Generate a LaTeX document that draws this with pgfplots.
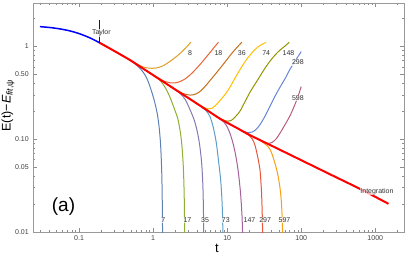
\documentclass[border=0pt]{standalone}
\usepackage{pgfplots}
\pgfplotsset{compat=1.18}
\usepackage{fontspec}
\setmainfont{Liberation Sans}
\definecolor{c1}{rgb}{0.368417,0.506779,0.709798}
\definecolor{c2}{rgb}{0.880722,0.611041,0.142051}
\definecolor{c3}{rgb}{0.560181,0.691569,0.194885}
\definecolor{c4}{rgb}{0.922526,0.385626,0.209179}
\definecolor{c5}{rgb}{0.528488,0.470624,0.701351}
\definecolor{c6}{rgb}{0.772079,0.431554,0.102387}
\definecolor{c7}{rgb}{0.363898,0.618501,0.782349}
\definecolor{c8}{rgb}{1,0.75,0}
\definecolor{c9}{rgb}{0.647624,0.37816,0.614037}
\definecolor{c10}{rgb}{0.571589,0.586483,0}
\definecolor{c11}{rgb}{0.915,0.3325,0.2125}
\definecolor{c12}{rgb}{0.400822,0.522007,0.85}
\definecolor{c13}{rgb}{0.972829,0.621644,0.073362}
\definecolor{c14}{rgb}{0.736783,0.358,0.503027}
\tikzset{
  fit/.style={line width=1pt, smooth, tension=0.5},
  lbl/.style={font=\fontsize{7}{8}\selectfont, text=black!80, fill=white, fill opacity=0.7, text opacity=1, inner sep=0.6pt},
}
\begin{document}
\begin{tikzpicture}
\useasboundingbox (-33.3pt,-26pt) rectangle (373.7pt,232pt);
\begin{axis}[
  at={(0pt,0pt)}, anchor=south west, scale only axis,
  width=371pt, height=229.3pt,
  xmode=log, ymode=log,
  xmin=0.02412, xmax=2466, ymin=0.01, ymax=2.94,
  axis line style={draw=black!40},
  tick style={draw=black!45, line width=0.5pt},
  tick align=inside,
  major tick length=4pt, minor tick length=2.2pt,
  xticklabel pos=lower, yticklabel pos=left,
  xtick={0.1,1,10,100,1000}, xticklabels={0.1,1,10,100,1000},
  minor xtick={0.03,0.04,0.05,0.06,0.07,0.08,0.09,0.2,0.3,0.4,0.5,0.6,0.7,0.8,0.9,2,3,4,5,6,7,8,9,20,30,40,50,60,70,80,90,200,300,400,500,600,700,800,900,2000},
  ytick={0.01,0.05,0.1,0.5,1}, yticklabels={0.01,0.05,0.10,0.50,1},
  minor ytick={0.02,0.03,0.04,0.06,0.07,0.08,0.09,0.2,0.3,0.4,0.6,0.7,0.8,0.9,2},
  ticklabel style={font=\fontsize{7}{8}\selectfont, text=black!75},
  yticklabel style={xshift=-1pt},
]
% odd orders
\addplot[c1, fit] coordinates {(0.188,1.093)(0.3065,0.879)(0.4888,0.7088)(0.6673,0.5771)(0.8040,0.4676)(0.9109,0.3650)(1.0316,0.2646)(1.1325,0.1918)(1.2054,0.1356)(1.2630,0.0868)(1.3029,0.0491)(1.3233,0.0285)(1.3357,0.0153)(1.3441,0.00826)};
\addplot[c3, fit] coordinates {(0.9109,0.5137)(1.2435,0.4287)(1.4527,0.3605)(1.5948,0.3146)(1.7890,0.2518)(1.9830,0.2015)(2.1768,0.1613)(2.3902,0.1032)(2.5432,0.0556)(2.6240,0.0271)(2.6568,0.01356)(2.6734,0.00826)};
\addplot[c5, fit] coordinates {(1.6969,0.3715)(1.9830,0.3389)(2.3168,0.3100)(2.7069,0.2679)(3.1623,0.2065)(3.5810,0.1613)(3.9322,0.1228)(4.2509,0.0868)(4.5234,0.0556)(4.6955,0.0323)(4.7839,0.01737)(4.8287,0.00826)};
\addplot[c7, fit] coordinates {(3.6945,0.2474)(4.3176,0.2280)(5.0436,0.2065)(5.5375,0.1895)(5.8925,0.1737)(6.4693,0.1356)(7.1029,0.0935)(7.6747,0.0570)(8.1690,0.0365)(8.5062,0.0223)(8.6935,0.01356)(8.7750,0.00826)};
\addplot[c9, fit] coordinates {(6.8851,0.1798)(8.0429,0.1645)(9.1106,0.1516)(10.0,0.1356)(10.978,0.1140)(12.054,0.0890)(13.233,0.0629)(14.302,0.0413)(15.225,0.0252)(15.849,0.0153)(16.098,0.01059)(16.199,0.00826)};
\addplot[c11, fit] coordinates {(14.990,0.1262)(16.972,0.1183)(19.218,0.1112)(21.768,0.1007)(23.902,0.0847)(26.487,0.0584)(27.925,0.0445)(28.985,0.0285)(29.532,0.0197)(29.995,0.01199)(30.182,0.00826)};
\addplot[c13, fit] coordinates {(27.925,0.0971)(31.623,0.0901)(35.814,0.0826)(39.318,0.0730)(43.176,0.0584)(47.395,0.0445)(51.227,0.0315)(53.674,0.0223)(55.375,0.0142)(56.069,0.01007)(56.419,0.00826)};
% even orders
\addplot[c2, fit] coordinates {(0.188,1.093)(0.3065,0.879)(0.4888,0.7088)(0.6673,0.6168)(0.8040,0.5871)(0.9694,0.5785)(1.1684,0.5886)(1.4082,0.6245)(1.6969,0.6881)(2.0460,0.7693)(2.3902,0.8577)(2.7925,0.9707)(3.2319,1.1041)};
\addplot[c4, fit] coordinates {(0.9109,0.5137)(1.0642,0.4758)(1.2435,0.4427)(1.4527,0.4172)(1.6969,0.4041)(1.9830,0.4031)(2.3168,0.4162)(2.7069,0.4449)(3.1623,0.4913)(3.6945,0.5561)(4.3176,0.6370)(5.0436,0.7395)(5.8925,0.8577)(6.6740,0.9707)(7.6271,1.1041)};
\addplot[c6, fit] coordinates {(1.6969,0.3715)(1.9830,0.3431)(2.3168,0.3201)(2.7069,0.3046)(3.1623,0.2979)(3.4714,0.2994)(3.8114,0.3069)(4.3176,0.3265)(5.0436,0.3695)(5.8925,0.4287)(6.8851,0.4974)(8.0429,0.5799)(9.3972,0.6780)(10.978,0.7963)(12.828,0.9239)(15.800,1.1041)};
\addplot[c8, fit] coordinates {(3.6945,0.2474)(4.3176,0.2309)(4.8893,0.2182)(5.5895,0.2117)(6.2710,0.2154)(6.8851,0.2280)(8.0429,0.2613)(9.3972,0.3031)(10.978,0.3650)(12.828,0.4561)(14.990,0.5630)(17.509,0.6864)(20.460,0.8063)(23.902,0.9239)(27.925,1.0200)(33.654,1.1041)};
\addplot[c10, fit] coordinates {(6.8851,0.1798)(8.0429,0.1674)(9.1106,0.1593)(10.316,0.1562)(11.684,0.1613)(13.233,0.1780)(14.990,0.2015)(17.509,0.2549)(20.460,0.3225)(23.902,0.3932)(27.925,0.4793)(32.623,0.5842)(38.113,0.6949)(44.540,0.8063)(52.030,0.9124)(60.782,1.0074)(68.838,1.1041)};
\addplot[c12, fit] coordinates {(12.828,0.1349)(14.990,0.1265)(16.972,0.1204)(19.218,0.1174)(21.768,0.1192)(24.659,0.1274)(27.925,0.1442)(32.623,0.1780)(38.113,0.2280)(44.540,0.2920)(52.030,0.3650)(60.782,0.4505)(71.017,0.5700)(82.975,0.6949)(100,0.8746)};
\addplot[c14, fit] coordinates {(23.902,0.1030)(27.925,0.0973)(31.623,0.0924)(35.814,0.0899)(40.566,0.0924)(45.943,0.1007)(52.030,0.1169)(60.782,0.1442)(71.017,0.1803)(82.975,0.2396)(91.106,0.2920)(100,0.3677)};
% integration
\addplot[red, line width=2pt, smooth, tension=0.5] coordinates {(0.188,1.093)(0.3065,0.879)(0.4888,0.7088)(0.6673,0.6033)(1,0.4889)(1.6969,0.3715)(3.1623,0.2692)(5.8925,0.1946)(8.0429,0.1653)(12.828,0.1349)(20.46,0.1101)(38.113,0.0864)(71.017,0.0678)(246.6,0.0417)(627.2,0.0290)(1512,0.0201)};
% Taylor
\addplot[blue, line width=1.5pt, smooth] coordinates {(0.0297,1.625)(0.0406,1.589)(0.0554,1.535)(0.0755,1.461)(0.1031,1.356)(0.1408,1.228)(0.188,1.093)};
\addplot[blue, line width=1.5pt] coordinates {(0.19,1.07)(0.19,1.92)};
% labels
\node[lbl] at (axis cs:0.2001,1.40) {Taylor};
\node[lbl] at (axis cs:1054,0.02733) {Integration};
\node[lbl] at (axis cs:3.162,0.84) {8};
\node[lbl] at (axis cs:7.627,0.84) {18};
\node[lbl] at (axis cs:15.80,0.835) {36};
\node[lbl] at (axis cs:33.65,0.835) {74};
\node[lbl] at (axis cs:67.36,0.835) {148};
\node[lbl] at (axis cs:90.25,0.669) {298};
\node[lbl] at (axis cs:90.25,0.276) {598};
\node[lbl] at (axis cs:1.378,0.01333) {7};
\node[lbl] at (axis cs:2.908,0.01333) {17};
\node[lbl] at (axis cs:5.044,0.01333) {35};
\node[lbl] at (axis cs:9.603,0.01333) {73};
\node[lbl] at (axis cs:20.02,0.01333) {147};
\node[lbl] at (axis cs:32.62,0.01333) {297};
\node[lbl] at (axis cs:59.47,0.01333) {597};
\end{axis}
\node[rotate=90, font=\fontsize{12.5}{15}\selectfont] at (-25.3pt,126.5pt) {E(t)−\textit{E}\textsubscript{\textit{fit},ψ}};
\node[font=\fontsize{13}{15}\selectfont] at (183.7pt,-16pt) {t};
\node[font=\fontsize{19}{22}\selectfont] at (30.2pt,25.7pt) {(a)};
\end{tikzpicture}
\end{document}
